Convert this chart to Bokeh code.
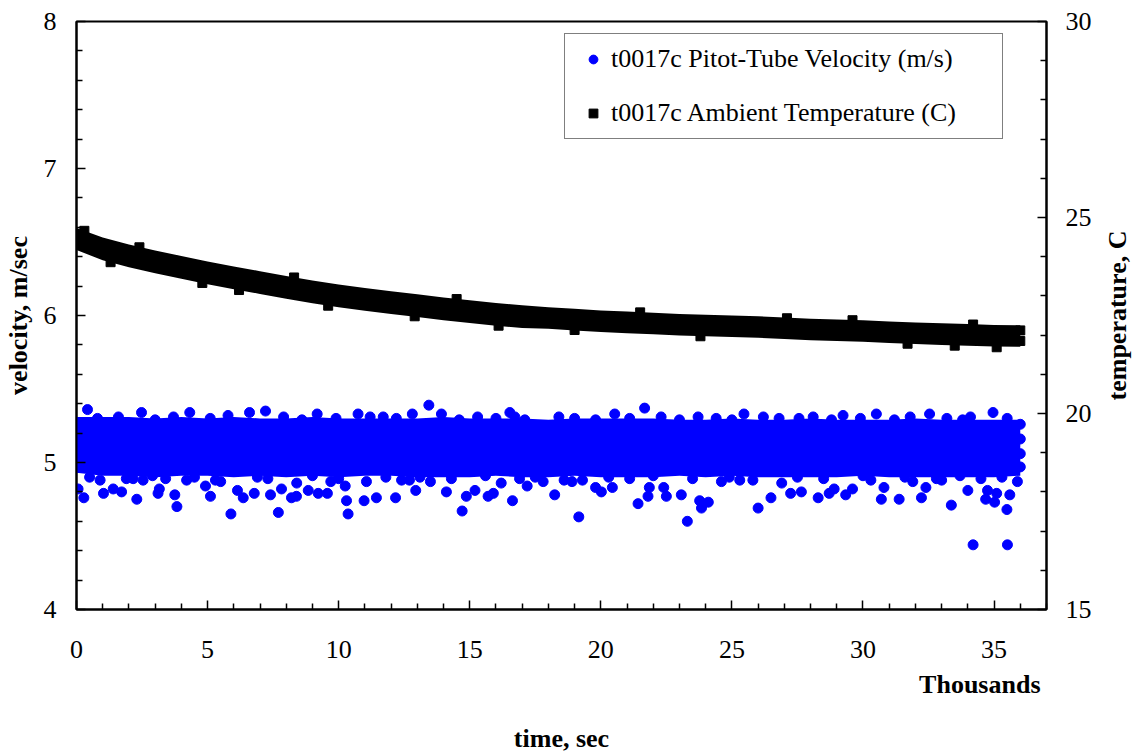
from math import pi
from bokeh.plotting import figure
from bokeh.layouts import row, column
from bokeh.models import Range1d, LinearAxis, FixedTicker, Legend, LegendItem, Title, Label
from bokeh.embed import file_html
from bokeh.resources import INLINE

# ---------------- data (time in thousands of seconds) ----------------
band_t = list(range(0, 37))

# dense core of the velocity cloud (m/s): upper / lower visible edge
vel_hi = [5.31, 5.31, 5.31, 5.30, 5.31, 5.30, 5.31, 5.30, 5.30, 5.31, 5.30, 5.30, 5.30,
          5.30, 5.31, 5.30, 5.30, 5.30, 5.29, 5.30, 5.30, 5.30, 5.30, 5.29, 5.29, 5.30,
          5.29, 5.29, 5.30, 5.29, 5.29, 5.29, 5.30, 5.29, 5.29, 5.29, 5.29]
vel_lo = [4.93, 4.91, 4.91, 4.90, 4.91, 4.91, 4.90, 4.91, 4.90, 4.91, 4.90, 4.91, 4.91,
          4.90, 4.90, 4.90, 4.91, 4.90, 4.90, 4.91, 4.90, 4.90, 4.90, 4.91, 4.90, 4.91,
          4.90, 4.90, 4.90, 4.90, 4.91, 4.90, 4.90, 4.90, 4.90, 4.90, 4.91]

# individual velocity readings outside the dense core (m/s)
vel_t = [0.0, 0.0, 0.0, 0.0, 36.0, 36.0, 36.0, 36.0,
         0.42, 2.48, 4.32, 5.78, 6.60, 7.21, 9.18, 10.74, 11.70, 12.81, 13.44, 13.92,
         16.53, 16.72, 20.53, 21.67, 23.71, 25.46, 27.56, 28.10, 29.24, 30.51, 32.54,
         34.10, 34.96,
         0.06, 0.28, 1.03, 1.40, 1.72, 2.16, 2.30, 2.54, 3.11, 3.16, 3.75, 3.83, 4.92,
         5.11, 5.89, 6.14, 6.36, 6.78, 7.40, 7.70, 7.82, 8.20, 8.39, 8.40, 8.84, 9.22,
         9.57, 9.70, 10.25, 10.30, 10.36, 10.97, 11.06, 11.44,
         12.17, 12.94, 14.11, 14.71, 14.87, 15.20, 15.70, 15.90, 16.63, 17.19, 17.80,
         18.24, 18.90, 19.16, 19.80, 20.02, 20.44, 21.42, 21.80, 21.85, 22.40, 22.50,
         23.07, 23.30, 23.77, 23.84,
         23.90, 24.10, 26.00, 26.49, 27.24, 27.65, 28.29, 28.71, 28.90, 29.34, 29.60,
         30.70, 30.80, 31.38, 32.23, 32.40, 33.37, 34.00, 34.20, 34.68, 34.75, 35.02,
         35.10, 35.49, 35.51, 35.60, 35.89,
         0.90, 4.20, 5.50, 12.40, 13.50, 16.20, 19.30, 24.60, 25.30, 26.90, 31.90, 33.00]
vel_v = [5.26, 5.16, 5.06, 4.97, 5.26, 5.16, 5.06, 4.97,
         5.36, 5.34, 5.34, 5.32, 5.34, 5.35, 5.33, 5.33, 5.31, 5.33, 5.39, 5.33,
         5.34, 5.31, 5.33, 5.37, 5.31, 5.33, 5.30, 5.31, 5.32, 5.33, 5.33,
         5.31, 5.34,
         4.82, 4.76, 4.79, 4.82, 4.80, 4.89, 4.75, 4.88, 4.79, 4.82, 4.78, 4.70, 4.84,
         4.77, 4.65, 4.81, 4.76, 4.79, 4.78, 4.66, 4.82, 4.76, 4.77, 4.86, 4.81, 4.79,
         4.79, 4.87, 4.84, 4.74, 4.65, 4.74, 4.87, 4.76,
         4.76, 4.81, 4.80, 4.67, 4.77, 4.81, 4.77, 4.79, 4.74, 4.84, 4.87,
         4.78, 4.87, 4.63, 4.83, 4.80, 4.83, 4.72, 4.77, 4.83, 4.83, 4.77,
         4.78, 4.60, 4.74, 4.69,
         4.72, 4.73, 4.69, 4.76, 4.79, 4.80, 4.76, 4.79, 4.82, 4.78, 4.82,
         4.75, 4.83, 4.75, 4.76, 4.83, 4.71, 4.81, 4.44, 4.75, 4.81, 4.73,
         4.79, 4.68, 4.44, 4.78, 4.87,
         4.88, 4.88, 4.87, 4.88, 4.87, 4.86, 4.88, 4.87, 4.88, 4.86, 4.87, 4.88]

# velocity readings along the ragged edges of the dense core (m/s)
vel_edge_t = [0.8, 1.6, 3.0, 3.7, 5.1, 7.9, 8.6, 9.9, 11.2, 12.2, 14.6, 15.3, 16.0, 17.1,
              18.4, 19.0, 19.8, 21.1, 22.3, 23.0, 24.4, 25.0, 26.2, 26.8, 28.8, 29.9,
              31.2, 31.8, 33.2, 33.8, 35.5,
              0.5, 1.9, 2.9, 3.4, 4.5, 5.3, 6.9, 7.3, 9.0, 10.0, 11.8, 12.7, 13.1, 14.3,
              15.6, 16.9, 17.5, 18.6, 20.3, 21.1, 22.0, 23.5, 24.9, 25.8, 27.5, 28.5,
              30.0, 30.3, 31.6, 32.8, 33.7, 34.5, 35.3]
vel_edge_v = [5.30, 5.31, 5.29, 5.31, 5.30, 5.31, 5.29, 5.30, 5.31, 5.30, 5.29, 5.31, 5.30,
              5.29, 5.31, 5.30, 5.29, 5.30, 5.31, 5.29, 5.30, 5.29, 5.31, 5.30, 5.29, 5.30,
              5.29, 5.31, 5.30, 5.29, 5.30,
              4.90, 4.89, 4.91, 4.89, 4.90, 4.88, 4.90, 4.89, 4.91, 4.89, 4.90, 4.88, 4.90,
              4.89, 4.91, 4.89, 4.90, 4.88, 4.90, 4.89, 4.91, 4.89, 4.90, 4.88, 4.90, 4.89,
              4.91, 4.88, 4.90, 4.89, 4.91, 4.89, 4.90]

# dense core of the temperature trace (C): upper / lower visible edge
temp_hi = [24.73, 24.49, 24.31, 24.16, 24.02, 23.88, 23.75, 23.63, 23.51, 23.39, 23.29,
           23.20, 23.12, 23.04, 22.96, 22.89, 22.82, 22.76, 22.71, 22.67, 22.63, 22.60,
           22.57, 22.54, 22.52, 22.50, 22.48, 22.45, 22.42, 22.40, 22.38, 22.35, 22.32,
           22.30, 22.28, 22.26, 22.25]
temp_lo = [24.17, 23.91, 23.73, 23.58, 23.44, 23.30, 23.17, 23.05, 22.93, 22.81, 22.71,
           22.62, 22.54, 22.46, 22.38, 22.31, 22.24, 22.18, 22.16, 22.12, 22.08, 22.05,
           22.02, 21.99, 21.97, 21.95, 21.93, 21.90, 21.87, 21.85, 21.83, 21.80, 21.77,
           21.75, 21.73, 21.71, 21.70]

# individual temperature readings at the edges of the trace (C)
temp_t = [0.0, 0.0, 36.0, 36.0,
          1.3, 4.8, 6.2, 9.6, 12.9, 16.1, 19.0, 23.8, 31.7, 33.5, 35.1,
          0.3, 2.4, 8.3, 14.5, 21.5, 27.1, 29.6, 34.2]
temp_v = [24.55, 24.30, 22.12, 21.85,
          23.86, 23.33, 23.15, 22.75, 22.48, 22.24, 22.13, 21.97, 21.78, 21.73, 21.69,
          24.66, 24.24, 23.47, 22.92, 22.58, 22.43, 22.38, 22.27]

x_ticks = [0, 5, 10, 15, 20, 25, 30, 35]
x_minor = [1, 2, 3, 4, 6, 7, 8, 9, 11, 12, 13, 14, 16, 17, 18, 19, 21, 22, 23, 24,
           26, 27, 28, 29, 31, 32, 33, 34, 36, 37]
v_ticks = [4, 5, 6, 7, 8]
v_minor = [4.2, 4.4, 4.6, 4.8, 5.2, 5.4, 5.6, 5.8, 6.2, 6.4, 6.6, 6.8, 7.2, 7.4, 7.6, 7.8]
t_ticks = [15, 20, 25, 30]
t_minor = [16, 17, 18, 19, 21, 22, 23, 24, 26, 27, 28, 29]

FONT = "Liberation Serif"
BLUE = "#0000FF"
TITLE_STYLE = dict(text_font=FONT, text_font_style="bold", text_font_size="26px",
                   text_color="black")

# ---------------- main chart ----------------
p = figure(width=1100, height=715, x_range=Range1d(0, 37), y_range=Range1d(4, 8),
           output_backend="svg", toolbar_location=None,
           min_border_left=75, min_border_right=54, min_border_top=21, min_border_bottom=106)
p.xgrid.visible = False
p.ygrid.visible = False
p.outline_line_color = "black"
p.outline_line_width = 2
p.background_fill_color = "white"
p.border_fill_color = "white"

p.extra_y_ranges = {"temp": Range1d(15, 30)}
p.add_layout(LinearAxis(y_range_name="temp"), "right")

p.xaxis.ticker = FixedTicker(ticks=x_ticks, minor_ticks=x_minor)
p.yaxis[0].ticker = FixedTicker(ticks=v_ticks, minor_ticks=v_minor)
p.yaxis[1].ticker = FixedTicker(ticks=t_ticks, minor_ticks=t_minor)

for ax in p.axis:
    ax.axis_line_color = "black"
    ax.axis_line_width = 2
    ax.major_tick_in = 9
    ax.major_tick_out = 0
    ax.minor_tick_in = 6
    ax.minor_tick_out = 0
    ax.major_tick_line_color = "black"
    ax.minor_tick_line_color = "black"
    ax.major_tick_line_width = 1.5
    ax.minor_tick_line_width = 1.5
    ax.major_label_text_font = FONT
    ax.major_label_text_font_size = "26px"
    ax.major_label_text_color = "black"
    ax.axis_label_text_font = FONT
    ax.axis_label_text_font_size = "26px"
    ax.axis_label_text_font_style = "bold"
    ax.axis_label_text_color = "black"
p.xaxis.major_label_standoff = 31
p.yaxis[0].major_label_standoff = 20
p.yaxis[1].major_label_standoff = 19

p.yaxis[0].axis_label = "velocity, m/sec"
p.yaxis[0].axis_label_standoff = 8

# velocity
p.varea(x=band_t, y1=vel_lo, y2=vel_hi, fill_color=BLUE)
vel_r = p.scatter(vel_t + vel_edge_t, vel_v + vel_edge_v, marker="circle", size=10,
                  fill_color=BLUE, line_color=BLUE)

# temperature
p.varea(x=band_t, y1=temp_lo, y2=temp_hi, fill_color="black", y_range_name="temp")
temp_r = p.scatter(temp_t, temp_v, marker="square", size=9, fill_color="black",
                   line_color="black", y_range_name="temp")

legend = Legend(items=[LegendItem(label="t0017c Pitot-Tube Velocity (m/s)", renderers=[vel_r]),
                       LegendItem(label="t0017c Ambient Temperature (C)", renderers=[temp_r])],
                location=(488, 470), orientation="vertical",
                label_text_font=FONT, label_text_font_size="26px", label_text_color="black",
                padding=10, spacing=24, glyph_width=36, glyph_height=22, label_standoff=0,
                label_width=381, margin=0,
                border_line_color="black", border_line_width=1,
                background_fill_color="white", background_fill_alpha=1)
p.add_layout(legend)

p.add_layout(Title(text="Thousands", align="right", offset=6, standoff=14, **TITLE_STYLE),
             "below")


def strip(w, h):
    f = figure(width=w, height=h, x_range=Range1d(0, w), y_range=Range1d(0, h),
               output_backend="svg", toolbar_location=None,
               x_axis_location=None, y_axis_location=None, min_border=0)
    f.xgrid.visible = False
    f.ygrid.visible = False
    f.outline_line_color = None
    f.background_fill_color = "white"
    f.border_fill_color = "white"
    return f


# x-axis title strip under the chart
bottom = strip(1100, 41)
bottom.add_layout(Label(x=550, y=18, text="time, sec", text_align="center",
                        text_baseline="alphabetic", **TITLE_STYLE))

# right-hand title strip for the temperature axis (reads bottom to top)
right = strip(33, 756)
right.add_layout(Label(x=16.5, y=441, text="temperature, C", angle=pi / 2,
                       text_align="center", text_baseline="middle", **TITLE_STYLE))

layout = row(column(p, bottom, spacing=0), right, spacing=0)

open("out.html", "w").write(file_html(layout, INLINE))
